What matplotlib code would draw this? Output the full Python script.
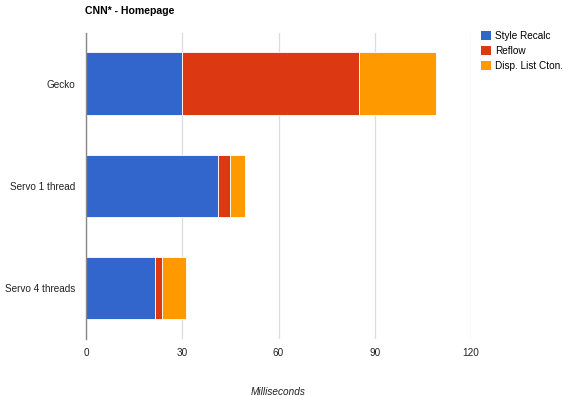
import numpy as np
import matplotlib.pyplot as plt
from matplotlib.patches import Patch

plt.rcParams['font.family'] = ['Liberation Sans', 'DejaVu Sans']

# data (milliseconds)
labels = ["Gecko", "Servo 1 thread", "Servo 4 threads"]
style_recalc = [30.0, 41.0, 21.5]
reflow = [55.0, 3.8, 2.1]
disp_list = [24.0, 4.9, 7.7]
series_names = ["Style Recalc", "Reflow", "Disp. List Cton."]
colors = ["#3366cc", "#dc3912", "#ff9900"]
xticks = [0, 30, 60, 90, 120]

fig = plt.figure(figsize=(5.7, 3.96), dpi=100)
ax = fig.add_axes([86 / 570, 1 - 339.2 / 396, 385 / 570, 306.7 / 396])

y = np.arange(len(labels))
left = np.zeros(len(labels))
for vals, col in zip([style_recalc, reflow, disp_list], colors):
    ax.barh(y, vals, left=left, height=0.61, color=col,
            edgecolor="white", linewidth=0.6, zorder=3)
    left = left + np.array(vals)

ax.set_ylim(2.5, -0.5)
ax.set_xlim(0, 120)
ax.set_xticks(xticks)
ax.set_xticklabels([str(t) for t in xticks])
ax.set_yticks(y)
ax.set_yticklabels(labels)
ax.tick_params(axis="both", length=0, labelsize=7.2, colors="#222222")
ax.tick_params(axis="y", pad=8)
ax.tick_params(axis="x", pad=6)

ax.grid(axis="x", color="#dddddd", linewidth=0.9, zorder=0)
for s in ["top", "right", "bottom"]:
    ax.spines[s].set_visible(False)
ax.spines["left"].set_color("#888888")
ax.spines["left"].set_linewidth(1.0)
ax.spines["left"].set_zorder(4)

fig.text(85 / 570, 1 - 11 / 396, "CNN* - Homepage", fontsize=7.6,
         fontweight="bold", va="center", ha="left")
# x-axis title sits at the very bottom edge, as in the original
fig.text(278 / 570, 1 - 387 / 396, "Milliseconds", fontsize=7.2,
         style="italic", va="top", ha="center", color="#222222")

handles = [Patch(facecolor=c, edgecolor="none") for c in colors]
fig.legend(handles, series_names, loc="upper left",
           bbox_to_anchor=(480.7 / 570, 1 - 31 / 396),
           bbox_transform=fig.transFigure, frameon=False, fontsize=7.2,
           handlelength=1.0, handleheight=1.0, handletextpad=0.47,
           labelspacing=0.52, borderpad=0, borderaxespad=0)

plt.savefig("out.png", dpi=100)
